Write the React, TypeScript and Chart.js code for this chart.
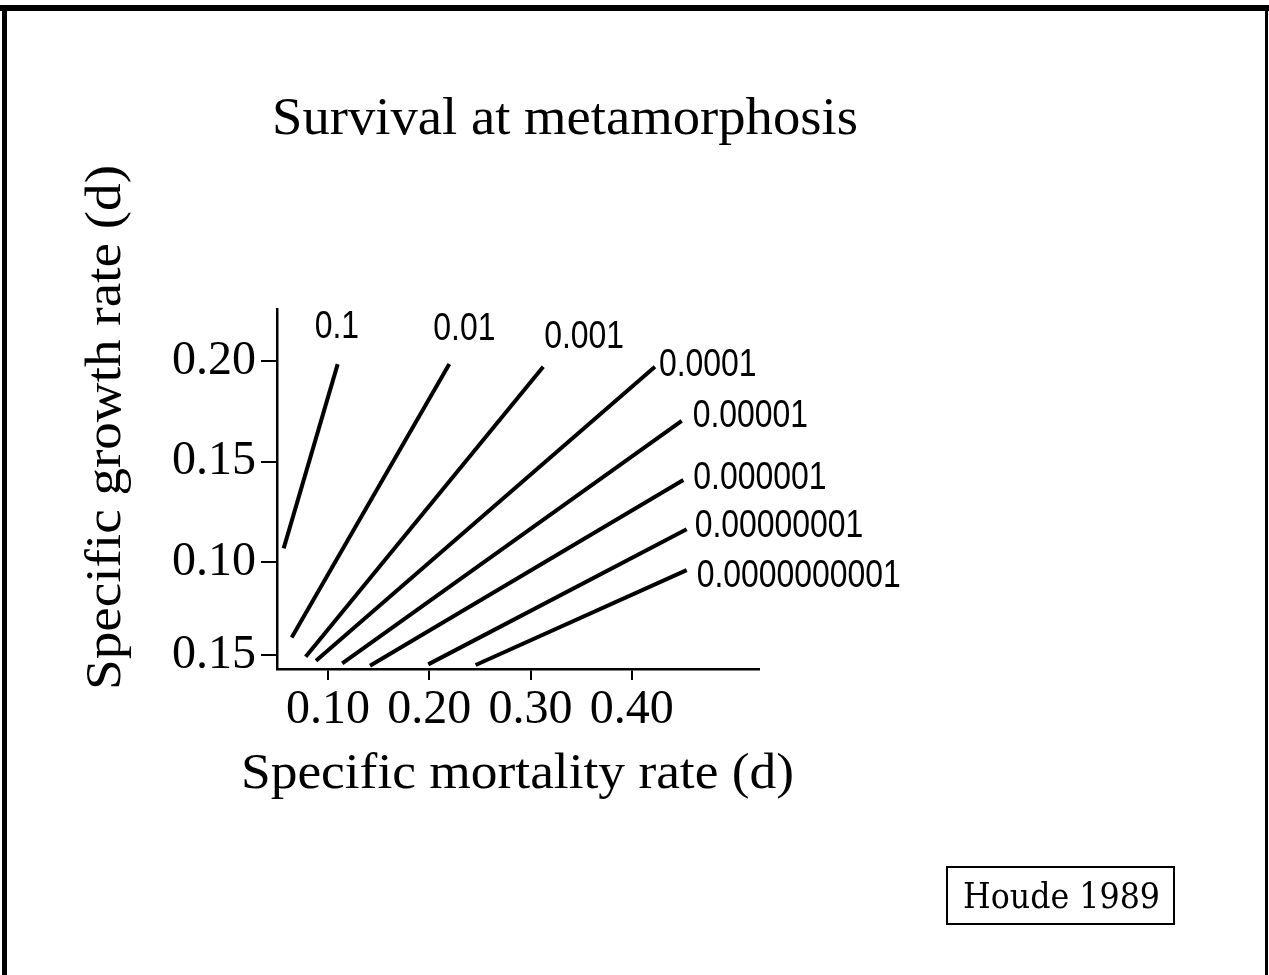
import React, { useEffect, useRef } from "react";
import { Chart, registerables } from "chart.js";

Chart.register(...registerables);

// Survival curves (iso-survival lines)
const survivalLabels = ["0.1", "0.01", "0.001", "0.0001", "0.00001", "0.000001", "0.00000001", "0.0000000001"];
const mortalityLow = [0.0563, 0.0642, 0.078, 0.0882, 0.1141, 0.1415, 0.199, 0.2458];
const mortalityHigh = [0.1096, 0.2198, 0.3125, 0.4228, 0.4492, 0.4508, 0.4541, 0.4541];
const growthLow = [0.1068, 0.0625, 0.0529, 0.0509, 0.0496, 0.0484, 0.0491, 0.0488];
const growthHigh = [0.1985, 0.1985, 0.1972, 0.1972, 0.1703, 0.1408, 0.1163, 0.096];

// Axis ticks
const xTickValues = [0.1, 0.2, 0.3, 0.4];
const xTickLabels = ["0.10", "0.20", "0.30", "0.40"];
const yTickValues = [0.0537, 0.1, 0.15, 0.2];
const yTickLabels = ["0.15", "0.10", "0.15", "0.20"];

const xMin = 0.0497;
const xMax = 0.5255;
const yMin = 0.0468;
const yMax = 0.2259;

// Label placement relative to each line's upper end (pixels)
const labelDx = [-23, -16, 1, 4, 11, 10, 8, 10];
const labelDy = [-26, -24, -19, 9, 6, 9, 8, 17];

const W = 1269;
const H = 975;

function fitText(ctx: CanvasRenderingContext2D, text: string, x: number, y: number, targetW: number, font: string) {
  ctx.save();
  ctx.font = font;
  ctx.textAlign = "left";
  ctx.textBaseline = "alphabetic";
  const w = ctx.measureText(text).width || 1;
  ctx.translate(x, y);
  ctx.scale(targetW / w, 1);
  ctx.fillStyle = "#000";
  ctx.fillText(text, 0, 0);
  ctx.restore();
}

const annotations = {
  id: "annotations",
  beforeDraw(chart: any) {
    const ctx = chart.ctx as CanvasRenderingContext2D;
    ctx.save();
    ctx.fillStyle = "#fff";
    ctx.fillRect(0, 0, chart.width, chart.height);
    ctx.restore();
  },
  afterDraw(chart: any) {
    const ctx = chart.ctx as CanvasRenderingContext2D;
    const xs = chart.scales.x;
    const ys = chart.scales.y;
    ctx.save();
    // slide frame
    ctx.fillStyle = "#000";
    ctx.fillRect(0, 5, W, 6);
    ctx.fillRect(2, 5, 5, H - 5);
    ctx.fillRect(1265, 5, 3, H - 5);

    // title and axis titles
    fitText(ctx, "Survival at metamorphosis", 272, 134, 586, '52px "Liberation Serif"');
    fitText(ctx, "Specific mortality rate (d)", 241, 788, 553, '50px "Liberation Serif"');
    ctx.save();
    ctx.translate(120, 690);
    ctx.rotate(-Math.PI / 2);
    fitText(ctx, "Specific growth rate (d)", 0, 0, 525, '50px "Liberation Serif"');
    ctx.restore();

    // line labels
    for (let i = 0; i < survivalLabels.length; i++) {
      const px = xs.getPixelForValue(mortalityHigh[i]);
      const py = ys.getPixelForValue(growthHigh[i]);
      ctx.save();
      ctx.font = '38px "Liberation Sans"';
      ctx.textAlign = "left";
      ctx.textBaseline = "alphabetic";
      ctx.fillStyle = "#000";
      ctx.translate(px + labelDx[i], py + labelDy[i]);
      ctx.scale(0.84, 1);
      ctx.fillText(survivalLabels[i], 0, 0);
      ctx.restore();
    }

    // reference box
    ctx.strokeStyle = "#000";
    ctx.lineWidth = 2;
    ctx.strokeRect(947, 867, 227, 57);
    fitText(ctx, "Houde 1989", 963, 908, 197, '36px "DejaVu Serif"');
    ctx.restore();
  },
};

export default function App() {
  const canvasRef = useRef<HTMLCanvasElement | null>(null);

  useEffect(() => {
    let chart: Chart | null = null;
    let cancelled = false;
    const fontsReady = (document as any).fonts
      ? Promise.all([
          (document as any).fonts.load('50px "Liberation Serif"'),
          (document as any).fonts.load('38px "Liberation Sans"'),
          (document as any).fonts.load('36px "DejaVu Serif"'),
        ]).catch(() => null)
      : Promise.resolve(null);

    fontsReady.then(() => {
      if (cancelled || !canvasRef.current) return;
      const datasets = survivalLabels.map((lab, i) => ({
        label: lab,
        data: [
          { x: mortalityLow[i], y: growthLow[i] },
          { x: mortalityHigh[i], y: growthHigh[i] },
        ],
        borderColor: "#000",
        backgroundColor: "#000",
        borderWidth: 4,
        pointRadius: 0,
        fill: false,
        tension: 0,
      }));

      chart = new Chart(canvasRef.current, {
        type: "line",
        data: { datasets },
        plugins: [annotations],
        options: {
          responsive: false,
          maintainAspectRatio: false,
          animation: false,
          devicePixelRatio: 1,
          parsing: false,
          layout: { padding: { left: 0, top: 309, right: 510, bottom: 206 } },
          plugins: {
            legend: { display: false },
            tooltip: { enabled: false },
            title: { display: false },
          },
          scales: {
            x: {
              type: "linear",
              min: xMin,
              max: xMax,
              afterFit: (s: any) => {
                s.height = 100;
              },
              afterBuildTicks: (s: any) => {
                s.ticks = xTickValues.map((v) => ({ value: v }));
              },
              ticks: {
                callback: (_v: any, i: number) => xTickLabels[i],
                font: { family: '"Liberation Serif", serif', size: 48 },
                color: "#000",
                padding: 2,
                maxRotation: 0,
                autoSkip: false,
              },
              grid: {
                display: true,
                drawOnChartArea: false,
                drawTicks: true,
                tickLength: 11,
                color: "#000",
                lineWidth: 2,
              },
              border: { display: true, color: "#000", width: 2.5 },
            },
            y: {
              type: "linear",
              min: yMin,
              max: yMax,
              afterFit: (s: any) => {
                s.width = 277;
              },
              afterBuildTicks: (s: any) => {
                s.ticks = yTickValues.map((v) => ({ value: v }));
              },
              ticks: {
                callback: (_v: any, i: number) => yTickLabels[i],
                font: { family: '"Liberation Serif", serif', size: 48 },
                color: "#000",
                padding: 5,
                autoSkip: false,
              },
              grid: {
                display: true,
                drawOnChartArea: false,
                drawTicks: true,
                tickLength: 16,
                color: "#000",
                lineWidth: 2,
              },
              border: { display: true, color: "#000", width: 2.5 },
            },
          },
        } as any,
      });
    });

    return () => {
      cancelled = true;
      if (chart) chart.destroy();
    };
  }, []);

  return (
    <div style={{ position: "fixed", left: 0, top: 0, width: W, height: H, background: "#fff" }}>
      <canvas ref={canvasRef} width={W} height={H} style={{ display: "block", width: W, height: H }} />
    </div>
  );
}
